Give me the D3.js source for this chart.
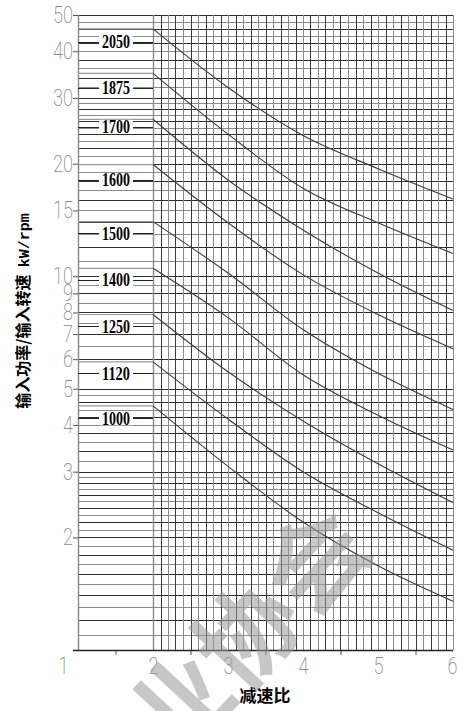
<!DOCTYPE html>
<html>
<head>
<meta charset="utf-8">
<style>
body { margin: 0; background: #fff; }
svg { display: block; }
.tick text { fill: #8a8a8a; font-family: Roboto, sans-serif; font-weight: 200; font-size: 23px; }
.tick line { stroke: #555; }
.model { font-family: "Liberation Serif", serif; font-weight: bold; font-size: 19px; fill: #000; }
.title { font-family: "Noto Sans CJK SC", sans-serif; font-weight: bold; fill: #000; }
</style>
<title></title></head>
<body>
<script src="https://cdn.jsdelivr.net/npm/d3@7/dist/d3.min.js"></script>
<script>

// reduction ratio positions where the curves were read
var ratios = [2, 3, 4, 5, 6];

// power / input speed (kW/rpm) for each size, read at ratios above
var p2050 = [45.9, 32.0, 23.8, 19.4, 16.1];
var p1875 = [34.9, 24.0, 17.2, 13.9, 11.5];
var p1700 = [26.3, 18.1, 13.3, 10.2, 8.1];
var p1600 = [19.9, 13.9, 10.1, 7.9, 6.4];
var p1500 = [14.0, 10.2, 7.2, 5.5, 4.4];
var p1400 = [10.5, 7.75, 5.45, 4.25, 3.43];
var p1250 = [7.9, 5.55, 4.1, 3.15, 2.48];
var p1120 = [5.9, 4.15, 3.0, 2.33, 1.85];
var p1000 = [4.5, 3.1, 2.2, 1.68, 1.35];

var models = ["2050", "1875", "1700", "1600", "1500", "1400", "1250", "1120", "1000"];
var series = [p2050, p1875, p1700, p1600, p1500, p1400, p1250, p1120, p1000];
// level where each size label sits on the left
var labelLevels = [42.4, 31.9, 25.1, 18.1, 13.05, 9.8, 7.35, 5.5, 4.17];

var yTicks = [1, 2, 3, 4, 5, 6, 7, 8, 9, 10, 15, 20, 30, 40, 50];
var xTicks = [1, 2, 3, 4, 5, 6];
var xMinorTicks = [1.5, 2.5, 3.5, 4.5, 5.5];
// log paper ruling: [from, to, step]
var ruling = [[1, 3, 0.1], [3, 5, 0.2], [5, 10, 0.5], [10, 30, 1], [30, 50, 2]];

var width = 461, height = 711;

var x = d3.scaleLinear().domain([1, 6]).range([78, 453]);
var y = d3.scaleLog().domain([1, 50]).range([650, 15]);

var svg = d3.select("body").append("svg")
    .attr("width", width)
    .attr("height", height);

// horizontal rules
var hLines = [];
ruling.forEach(function(r) {
  var n = Math.round((r[1] - r[0]) / r[2]);
  for (var i = 0; i < n; i++) hLines.push(+(r[0] + i * r[2]).toFixed(2));
});
hLines.push(50);

// vertical rules from ratio 2 to 6
var vLines = d3.range(0, 41).map(function(i) { return +(2 + i * 0.1).toFixed(1); });

var grid = svg.append("g").attr("class", "grid");

grid.selectAll(".h")
    .data(hLines)
    .enter().append("line")
    .attr("x1", x(1)).attr("x2", x(6))
    .attr("y1", function(d) { return Math.round(y(d)) + 0.5; })
    .attr("y2", function(d) { return Math.round(y(d)) + 0.5; })
    .style("stroke", function(d, i) { return i % 2 ? "#8c8c8c" : "#2e2e2e"; })
    .style("stroke-width", 1);

grid.selectAll(".v")
    .data(vLines)
    .enter().append("line")
    .attr("x1", function(d) { return Math.round(x(d)) + 0.5; })
    .attr("x2", function(d) { return Math.round(x(d)) + 0.5; })
    .attr("y1", y(50)).attr("y2", y(1))
    .style("stroke", function(d, i) { return i % 2 ? "#3a3a3a" : "#8c8c8c"; })
    .style("stroke-width", function(d, i) { return i == 0 ? 1.4 : 1; });

// left axis line
grid.append("line")
    .attr("x1", x(1) + 0.5).attr("x2", x(1) + 0.5)
    .attr("y1", y(50)).attr("y2", y(1))
    .style("stroke", "#888").style("stroke-width", 1.4);

// label leader lines on the left part
grid.selectAll(".lead")
    .data(labelLevels)
    .enter().append("line")
    .attr("x1", x(1)).attr("x2", x(2))
    .attr("y1", function(d) { return Math.round(y(d)) + 0.5; })
    .attr("y2", function(d) { return Math.round(y(d)) + 0.5; })
    .style("stroke", "#222");

// curves
var line = d3.line()
    .x(function(d) { return x(d[0]); })
    .y(function(d) { return y(d[1]); })
    .curve(d3.curveMonotoneX);

var curves = svg.append("g");

curves.selectAll(".start")
    .data(series)
    .enter().append("line")
    .attr("x1", x(1)).attr("x2", x(2))
    .attr("y1", function(d) { return y(d[0]); })
    .attr("y2", function(d) { return y(d[0]); })
    .style("stroke", "#999")
    .style("stroke-width", 1.2);

curves.selectAll("path")
    .data(series)
    .enter().append("path")
    .attr("d", function(d) { return line(d.map(function(v, i) { return [ratios[i], v]; })); })
    .style("fill", "none")
    .style("stroke", "#3c3c3c")
    .style("stroke-width", 1.1);

// size labels
var lab = svg.append("g").selectAll("g")
    .data(models)
    .enter().append("g")
    .attr("transform", function(d, i) { return "translate(116," + y(labelLevels[i]) + ")"; });

lab.append("rect")
    .attr("x", -17).attr("y", -7).attr("width", 34).attr("height", 14)
    .style("fill", "#fff");

lab.append("text")
    .attr("class", "model")
    .attr("text-anchor", "middle")
    .attr("dy", "0.34em")
    .attr("textLength", 28)
    .attr("lengthAdjust", "spacingAndGlyphs")
    .text(function(d) { return d; });

// axes
var yAxis = svg.append("g")
    .attr("transform", "translate(" + x(1) + ",0)")
    .call(d3.axisLeft(y).tickValues(yTicks)
      .tickFormat(function(d) { return d == 1 ? "" : d; })
      .tickSize(5).tickPadding(0));
yAxis.select(".domain").remove();
yAxis.selectAll(".tick text")
    .attr("textLength", function(d) { return d == 1 ? null : String(d).length * 10; })
    .attr("lengthAdjust", "spacingAndGlyphs");

var xAxis = svg.append("g")
    .attr("transform", "translate(0," + y(1) + ")")
    .call(d3.axisBottom(x).tickValues(xTicks).tickFormat(d3.format("d"))
      .tickSize(0).tickPadding(8));
xAxis.select(".domain").remove();
xAxis.selectAll(".tick text")
    .attr("dx", function(d) { return d == 1 ? -15 : (d == 6 ? -1 : 0); })
    .attr("textLength", 10)
    .attr("lengthAdjust", "spacingAndGlyphs");

var xMinor = svg.append("g")
    .attr("transform", "translate(0," + y(1) + ")")
    .call(d3.axisBottom(x).tickValues(xMinorTicks).tickSize(5).tickFormat(""));
xMinor.select(".domain").remove();

// bottom frame line
svg.append("line")
    .attr("x1", x(1) - 5).attr("x2", x(6))
    .attr("y1", y(1) + 0.5).attr("y2", y(1) + 0.5)
    .style("stroke", "#222").style("stroke-width", 1.3);

// titles
var yt = svg.append("text")
    .attr("class", "title")
    .attr("transform", "translate(29,311) rotate(-90)")
    .attr("text-anchor", "middle")
    .style("font-size", "16px");
yt.append("tspan").text("输入功率/输入转速\u00a0\u00a0");
yt.append("tspan").style("font-family", "'Liberation Mono', monospace").style("font-size", "15px").text("kW/rpm");

svg.append("text")
    .attr("class", "title")
    .attr("x", 265).attr("y", 702)
    .attr("text-anchor", "middle")
    .style("font-size", "17px")
    .text("减速比");

// watermark
svg.append("text")
    .attr("transform", "translate(215,672) rotate(-47)")
    .attr("text-anchor", "middle")
    .attr("dy", "0.35em")
    .style("font-family", "'Noto Sans CJK SC', sans-serif")
    .style("font-weight", "bold")
    .style("font-size", "100px")
    .style("fill", "#9a9a9a")
    .style("opacity", 0.55)
    .text("行业协会");

</script>
</body>
</html>
